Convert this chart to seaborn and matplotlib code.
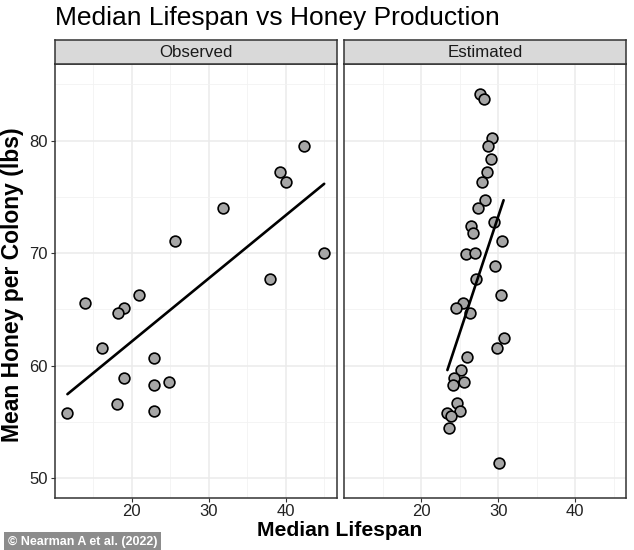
import matplotlib
matplotlib.use("Agg")
import matplotlib.pyplot as plt
import seaborn as sns
import pandas as pd
import numpy as np

# ---- data ----
obs_lifespan = [42.4, 39.3, 40.0, 31.9, 25.6, 45.0, 37.9, 13.9, 20.9, 19.0,
                18.2, 16.1, 22.9, 19.0, 24.9, 22.9, 18.1, 22.9, 11.65]
obs_honey = [79.5, 77.2, 76.3, 74.0, 71.1, 70.0, 67.7, 65.6, 66.3, 65.1,
             64.7, 61.6, 60.7, 58.9, 58.6, 58.3, 56.6, 56.0, 55.8]

est_lifespan = [27.65, 28.1, 29.2, 28.7, 29.0, 28.5, 27.9, 28.3, 27.4, 29.4,
                26.5, 26.7, 30.5, 25.8, 27.0, 29.55, 27.1, 30.3, 25.4, 24.5,
                26.35, 30.7, 29.8, 26.0, 25.2, 24.3, 25.6, 24.1, 24.7, 25.0,
                23.4, 23.9, 23.6, 30.1]
est_honey = [84.1, 83.7, 80.2, 79.5, 78.4, 77.2, 76.3, 74.7, 74.0, 72.8,
             72.4, 71.8, 71.1, 69.9, 70.0, 68.9, 67.7, 66.3, 65.6, 65.1,
             64.7, 62.5, 61.6, 60.8, 59.6, 58.9, 58.6, 58.3, 56.7, 56.0,
             55.8, 55.5, 54.5, 51.4]

panels = ["Observed", "Estimated"]
x_ticks = [20, 30, 40]
y_ticks = [50, 60, 70, 80]

df = pd.concat([
    pd.DataFrame({"lifespan": obs_lifespan, "honey": obs_honey, "panel": panels[0]}),
    pd.DataFrame({"lifespan": est_lifespan, "honey": est_honey, "panel": panels[1]}),
])

sns.set_theme(style="white")
plt.rcParams["font.family"] = ["Liberation Sans", "DejaVu Sans"]

W, H = 634, 550
fig = plt.figure(figsize=(W / 100, H / 100), dpi=100)

def fx(px):
    return px / W

def fy(py):
    return 1 - py / H

panel_top, panel_bot = 64, 497.5
strip_top = 39.5
lefts = [(54.5, 336.5), (344, 626)]

xlim = (9.97, 46.6)
ylim = (48.3, 86.8)

for i, (name, (l, r)) in enumerate(zip(panels, lefts)):
    ax = fig.add_axes([fx(l), fy(panel_bot), fx(r) - fx(l), fy(panel_top) - fy(panel_bot)])
    sub = df[df["panel"] == name]
    sns.regplot(data=sub, x="lifespan", y="honey", ax=ax, ci=None, truncate=True,
                scatter_kws=dict(s=60, facecolor="#A6A6A6", edgecolor="black",
                                 linewidths=1.2, alpha=1, zorder=3),
                line_kws=dict(color="black", lw=1.9, zorder=4))
    ax.set_xlim(xlim)
    ax.set_ylim(ylim)
    ax.set_xticks(x_ticks)
    ax.set_yticks(y_ticks)
    ax.set_xticks([15, 25, 35, 45], minor=True)
    ax.set_yticks([55, 65, 75, 85], minor=True)
    ax.grid(True, which="major", color="#EBEBEB", lw=1.1, zorder=0)
    ax.grid(True, which="minor", color="#F2F2F2", lw=0.6, zorder=0)
    ax.set_axisbelow(True)
    for sp in ax.spines.values():
        sp.set_color("#333333")
        sp.set_linewidth(1.1)
    ax.set_xlabel("")
    ax.set_ylabel("")
    ax.tick_params(axis="both", which="major", length=3, width=0.8, color="#333333",
                   labelsize=12, labelcolor="#222222", pad=2,
                   bottom=True, left=True)
    ax.tick_params(axis="both", which="minor", length=0)
    if i == 1:
        ax.tick_params(axis="y", labelleft=False, left=False)
    # strip
    sax = fig.add_axes([fx(l), fy(panel_top), fx(r) - fx(l), fy(strip_top) - fy(panel_top)])
    sax.set_facecolor("#D9D9D9")
    sax.set_xticks([])
    sax.set_yticks([])
    for sp in sax.spines.values():
        sp.set_color("#333333")
        sp.set_linewidth(1.1)
    sax.text(0.5, 0.45, name, ha="center", va="center", fontsize=12.2,
             color="#1A1A1A", transform=sax.transAxes)

fig.text(fx(55), fy(18), "Median Lifespan vs Honey Production", ha="left", va="center",
         fontsize=19, color="black")
fig.text(fx(340), fy(531), "Median Lifespan", ha="center", va="center",
         fontsize=15.2, fontweight="bold", color="black")
fig.text(fx(13), fy(285), "Mean Honey per Colony (lbs)", ha="center", va="center",
         rotation=90, fontsize=16.5, fontweight="bold", color="black")

fig.text(fx(8), fy(542), "\u00a9 Nearman A et al. (2022)", ha="left", va="center",
         fontsize=9, fontweight="bold", color="white",
         family=["Liberation Sans Narrow", "Liberation Sans", "DejaVu Sans"],
         bbox=dict(boxstyle="square,pad=0.3", facecolor="#8C8C8C", edgecolor="none"))

fig.savefig("out.png", dpi=100)
